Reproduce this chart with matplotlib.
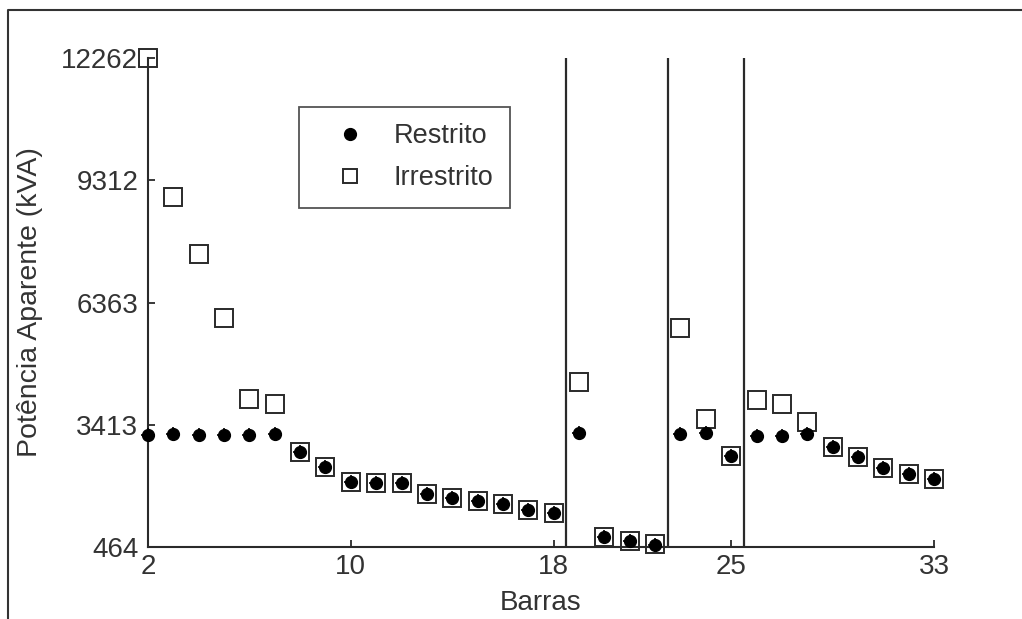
import matplotlib
matplotlib.use('Agg')
import matplotlib.pyplot as plt
from matplotlib.lines import Line2D

plt.rcParams['font.family'] = ['Liberation Sans', 'DejaVu Sans']

barras = list(range(2, 34))
restrito = [3170, 3180, 3170, 3175, 3175, 3180, 2763, 2401, 2040, 2020, 2000,
            1735, 1653, 1574, 1494, 1357, 1277, 3222, 713, 616, 505,
            3183, 3222, 2667, 3149, 3149, 3183, 2884, 2628, 2363, 2232, 2097]
irrestrito = [12262, 8915, 7528, 6000, 4047, 3919, 2763, 2401, 2040, 2020, 2000,
              1735, 1653, 1574, 1494, 1357, 1277, 4445, 713, 616, 540,
              5740, 3545, 2667, 4011, 3914, 3487, 2884, 2628, 2363, 2232, 2097]
divisoes = [18.5, 22.5, 25.5]
xticks = [2, 10, 18, 25, 33]
yticks = [464, 3413, 6363, 9312, 12262]

cor = '#2a2a2a'

fig = plt.figure(figsize=(10.22, 6.19), dpi=100)
ax = fig.add_axes([0.1448, 0.1163, 0.7691, 0.79])

for d in divisoes:
    ax.axvline(d, color=cor, linewidth=1.6)

ax.plot(barras, irrestrito, linestyle='none', marker='s', markersize=12.5,
        markerfacecolor='none', markeredgecolor=cor, markeredgewidth=1.4,
        clip_on=False, zorder=3)
ax.plot(barras, restrito, linestyle='none', marker='o', markersize=8.5,
        color='black', clip_on=False, zorder=4)
ax.plot(barras, restrito, linestyle='none', marker='+', markersize=10.5,
        markeredgewidth=1.2, color='black', clip_on=False, zorder=4)

h1 = Line2D([], [], linestyle='none', marker='o', markersize=8.5, color='black')
h2 = Line2D([], [], linestyle='none', marker='s', markersize=10,
            markerfacecolor='none', markeredgecolor=cor, markeredgewidth=1.4)
leg = ax.legend([h1, h2], ['Restrito', 'Irrestrito'], loc='upper left',
                bbox_to_anchor=(0.192, 0.9), fontsize=19.5, frameon=True,
                fancybox=False, edgecolor=cor, borderpad=0.6,
                labelspacing=0.6, handlelength=2.6, handletextpad=0.3,
                borderaxespad=0)
leg.get_frame().set_linewidth(1.3)
for t in leg.get_texts():
    t.set_color('#333333')

ax.set_xlim(2, 33)
ax.set_ylim(464, 12262)
ax.set_xticks(xticks)
ax.set_yticks(yticks)
ax.tick_params(direction='in', length=5, width=1.3, labelsize=20, colors=cor,
               labelcolor='#333333')
ax.tick_params(axis='x', pad=5)
ax.tick_params(axis='y', pad=7)
for s in ['top', 'right']:
    ax.spines[s].set_visible(False)
for s in ['left', 'bottom']:
    ax.spines[s].set_linewidth(1.5)
    ax.spines[s].set_color(cor)

ax.set_xlabel('Barras', fontsize=20, color='#333333', va='center')
ax.xaxis.set_label_coords(0.5, -0.1145)
ax.set_ylabel('Potência Aparente (kVA)', fontsize=20.5, color='#333333', va='center')
ax.yaxis.set_label_coords(-0.150, 0.5)

# moldura da figura (apenas esquerda e topo visiveis)
fig.add_artist(Line2D([8 / 1022, 8 / 1022, 1.0], [0.0, 1 - 10 / 619, 1 - 10 / 619],
                      transform=fig.transFigure, color='#333333', linewidth=1.5))

fig.savefig('out.png', dpi=100)
